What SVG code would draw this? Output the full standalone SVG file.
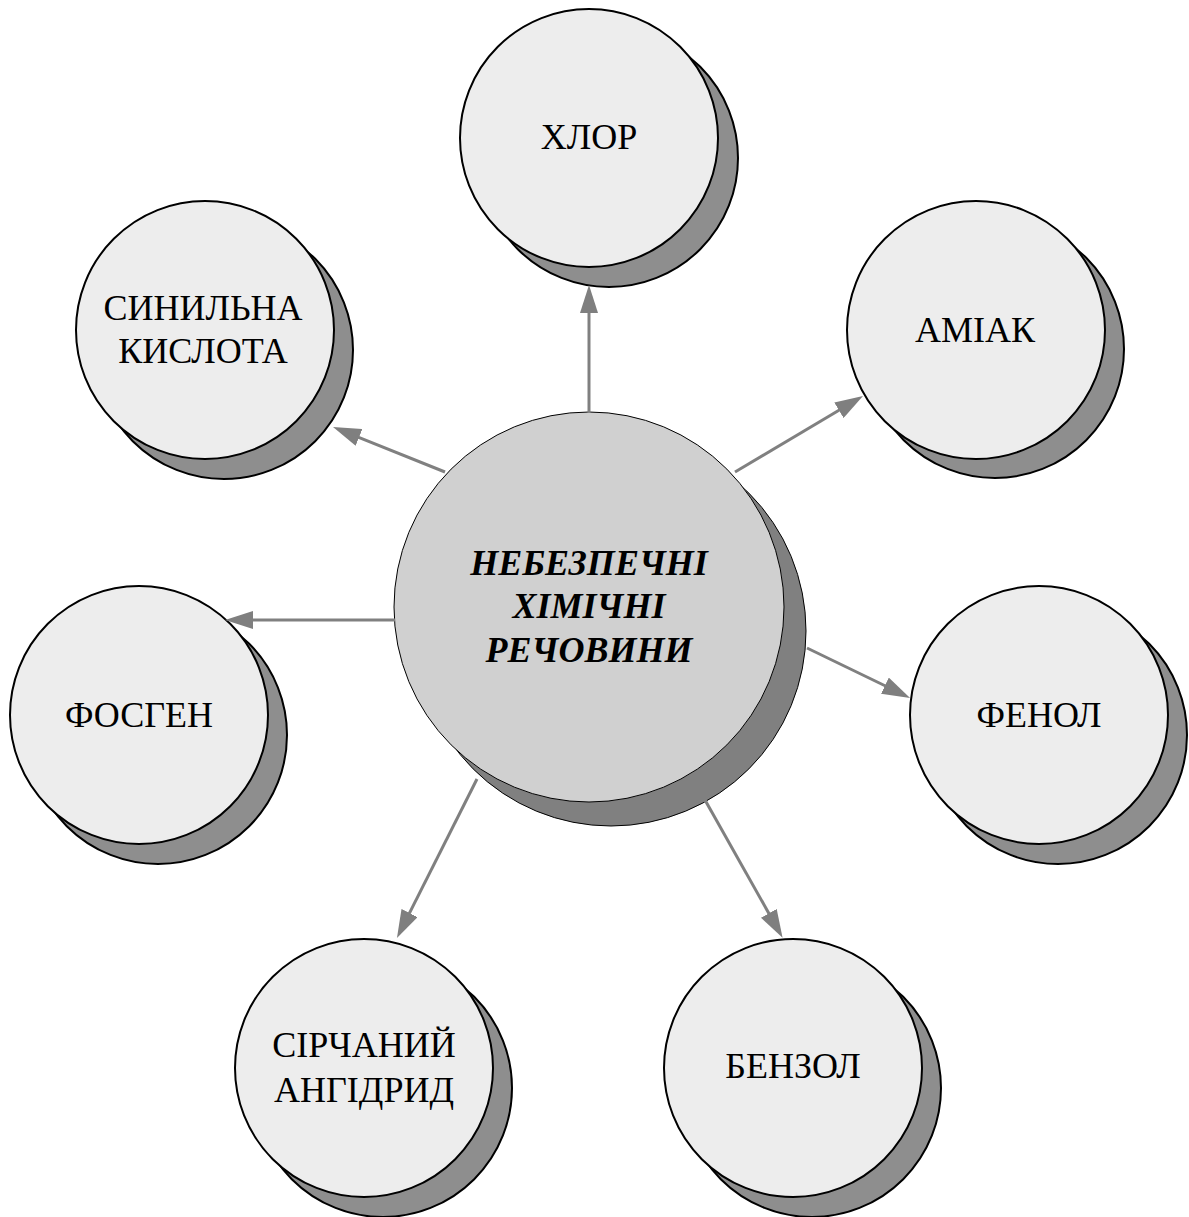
<svg xmlns="http://www.w3.org/2000/svg" width="1189" height="1217" viewBox="0 0 1189 1217">
<style>
.sh{fill:#8e8e8e;stroke:#000;stroke-width:2}
.fr{fill:#ededed;stroke:#000;stroke-width:2}
.shc{fill:#808080;stroke:#000;stroke-width:1}
.frc{fill:#d0d0d0;stroke:#000;stroke-width:1}
.lbl{font-family:"Liberation Serif","Times New Roman",serif;font-size:36px;fill:#000;text-anchor:middle}
.ctr{font-family:"Liberation Serif","Times New Roman",serif;font-size:36px;font-weight:bold;font-style:italic;fill:#000;text-anchor:middle}
.con{stroke:#808080;stroke-width:3;fill:none;marker-end:url(#ah)}
</style>
<defs>
<marker id="ah" markerUnits="userSpaceOnUse" markerWidth="28" markerHeight="18" refX="3" refY="9" orient="auto">
<path d="M0,0 L28,9 L0,18 z" fill="#7f7f7f"/>
</marker>
</defs>
<rect width="1189" height="1217" fill="#fff"/>
<g id="node-center">
<circle class="shc" cx="611" cy="631" r="195"/>
<circle class="frc" cx="589" cy="607" r="195"/>
<text class="ctr" x="589" y="575">НЕБЕЗПЕЧНІ</text>
<text class="ctr" x="589" y="618">ХІМІЧНІ</text>
<text class="ctr" x="589" y="662">РЕЧОВИНИ</text>
</g>
<g id="node-chlor">
<circle class="sh" cx="609" cy="158" r="129"/>
<circle class="fr" cx="589" cy="138" r="129"/>
<text class="lbl" x="589" y="149">ХЛОР</text>
</g>
<g id="node-hcn">
<circle class="sh" cx="224" cy="350" r="129"/>
<circle class="fr" cx="205" cy="330" r="129"/>
<text class="lbl" x="203" y="320">СИНИЛЬНА</text>
<text class="lbl" x="203" y="363">КИСЛОТА</text>
</g>
<g id="node-ammonia">
<circle class="sh" cx="995" cy="349" r="129"/>
<circle class="fr" cx="976" cy="330" r="129"/>
<text class="lbl" x="975" y="342">АМІАК</text>
</g>
<g id="node-phosgene">
<circle class="sh" cx="158" cy="735" r="129"/>
<circle class="fr" cx="139" cy="715" r="129"/>
<text class="lbl" x="139" y="727">ФОСГЕН</text>
</g>
<g id="node-phenol">
<circle class="sh" cx="1058" cy="735" r="129"/>
<circle class="fr" cx="1039" cy="715" r="129"/>
<text class="lbl" x="1039" y="727">ФЕНОЛ</text>
</g>
<g id="node-so2">
<circle class="sh" cx="383" cy="1088" r="129"/>
<circle class="fr" cx="364" cy="1068" r="129"/>
<text class="lbl" x="364" y="1057">СІРЧАНИЙ</text>
<text class="lbl" x="364" y="1102">АНГІДРИД</text>
</g>
<g id="node-benzene">
<circle class="sh" cx="812" cy="1088" r="129"/>
<circle class="fr" cx="793" cy="1068" r="129"/>
<text class="lbl" x="793" y="1078">БЕНЗОЛ</text>
</g>
<g id="connectors">
<line class="con" x1="589" y1="413" x2="589" y2="310"/>
<line class="con" x1="445" y1="472" x2="356.2" y2="436.3"/>
<line class="con" x1="735" y1="472" x2="841.5" y2="408.8"/>
<line class="con" x1="395" y1="620" x2="250" y2="620"/>
<line class="con" x1="807" y1="648" x2="887.6" y2="687"/>
<line class="con" x1="477" y1="779" x2="408.2" y2="915.7"/>
<line class="con" x1="705" y1="800" x2="770.3" y2="915.9"/>
</g>
</svg>
